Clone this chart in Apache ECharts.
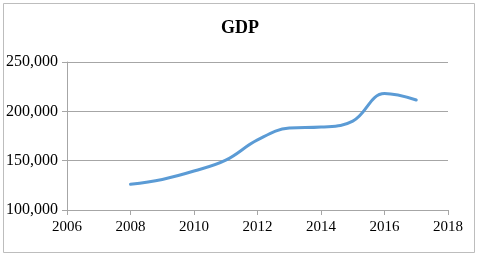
<!DOCTYPE html>
<html><head><meta charset="utf-8">
<script src="https://cdn.jsdelivr.net/npm/echarts@6/dist/echarts.min.js"></script>
<style>html,body{margin:0;padding:0;background:#fff}#c{width:480px;height:260px}</style>
</head><body><div id="c"></div>
<script>
const years = [2008, 2009, 2010, 2011, 2012, 2013, 2014, 2015, 2016, 2017];
const gdp = [126000, 131000, 139500, 150500, 171000, 183000, 184000, 190000, 218000, 211500];
const xTicks = [2006, 2018, 2];
const yTicks = [100000, 250000, 50000];

const chart = echarts.init(document.getElementById('c'), null, {renderer: 'canvas'});
const font = '"Liberation Serif", "Times New Roman", serif';
chart.setOption({
  animation: false,
  backgroundColor: '#fff',
  graphic: [{type: 'rect', shape: {x: 3.5, y: 3.5, width: 471, height: 249}, style: {fill: 'none', stroke: '#bdbdbd', lineWidth: 1}}],
  title: {text: 'GDP', left: 'center', top: 14, textStyle: {fontFamily: font, fontWeight: 'bold', fontSize: 18, color: '#000'}},
  grid: {left: 67, right: 32, top: 62, bottom: 50},
  xAxis: {
    type: 'value', min: xTicks[0], max: xTicks[1], interval: xTicks[2],
    axisLine: {lineStyle: {color: '#a6a6a6'}},
    axisTick: {show: true, length: 5, lineStyle: {color: '#a6a6a6'}},
    splitLine: {show: false},
    axisLabel: {fontFamily: font, fontSize: 15, color: '#000', margin: 10, formatter: v => String(v)}
  },
  yAxis: {
    type: 'value', min: yTicks[0], max: yTicks[1], interval: yTicks[2],
    axisLine: {show: true, lineStyle: {color: '#a6a6a6'}},
    axisTick: {show: true, length: 5, lineStyle: {color: '#a6a6a6'}},
    splitLine: {lineStyle: {color: '#a6a6a6'}},
    axisLabel: {fontFamily: font, fontSize: 16, color: '#000', margin: 9, formatter: v => v.toLocaleString('en-US')}
  },
  series: [{
    type: 'line', data: years.map((y, i) => [y, gdp[i]]), smooth: 0.4, symbol: 'none',
    lineStyle: {color: '#5b9bd5', width: 3, cap: 'round'}
  }]
});
</script></body></html>
